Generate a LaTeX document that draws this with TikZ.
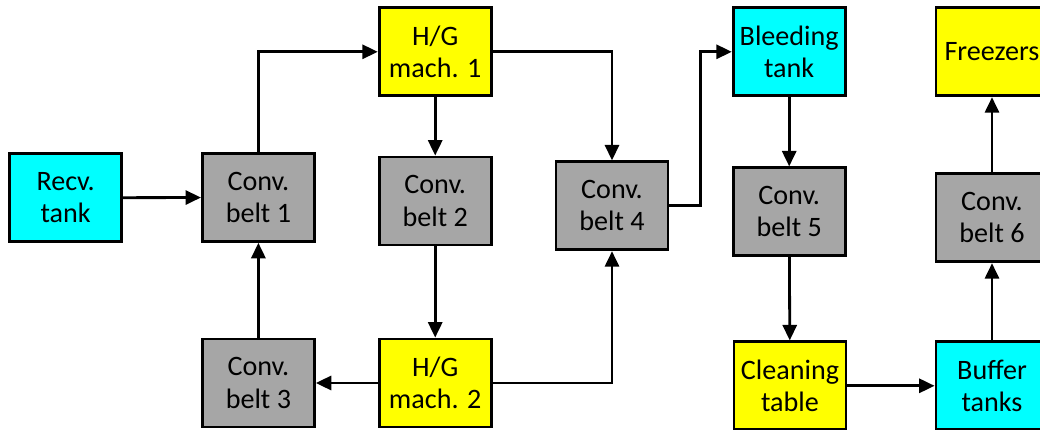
\documentclass[tikz,border=0pt]{standalone}
\usepackage{fontspec}
\setmainfont{Carlito}
\usetikzlibrary{arrows.meta}
\definecolor{tankcol}{RGB}{0,255,255}
\definecolor{machcol}{RGB}{255,255,0}
\definecolor{beltcol}{RGB}{166,166,166}

\begin{document}
\begin{tikzpicture}[>={Triangle[length=11pt,width=10pt]},every node/.style={font=\fontsize{20}{23}\selectfont,align=center},box/.style={draw,line width=2pt,minimum width=2.8cm,minimum height=2.2cm,inner sep=0pt},tank/.style={box,fill=tankcol},belt/.style={box,fill=beltcol},mach/.style={box,fill=machcol},flow/.style={->,line width=2pt}]
\useasboundingbox (0,0) rectangle (26,10.725);
\node[tank] (recv) at (1.64,5.78) {Recv.\\tank};
\node[belt] (belt1) at (6.46,5.79) {Conv.\\belt 1};\node[belt] (belt3) at (6.46,1.15) {Conv.\\belt 3};
\node[mach] (mach1) at (10.88,9.43) {H/G\\mach. 1};\node[belt] (belt2) at (10.88,5.7) {Conv.\\belt 2};\node[mach] (mach2) at (10.88,1.15) {H/G\\mach. 2};
\node[belt] (belt4) at (15.3,5.58) {Conv.\\belt 4};
\node[tank] (bleed) at (19.73,9.43) {Bleeding\\tank};\node[belt] (belt5) at (19.73,5.43) {Conv.\\belt 5};\node[mach] (clean) at (19.75,1.08) {Cleaning\\table};
\node[mach] (freez) at (24.8,9.43) {Freezers};\node[belt] (belt6) at (24.8,5.28) {Conv.\\belt 6};\node[tank] (buffer) at (24.8,1.08) {Buffer\\tanks};
% first line
\draw[flow] (recv) -- (belt1);\draw[flow] (belt3) -- (belt1);\draw[flow] (belt1.north) |- (mach1.west);
\draw[flow] (mach1) -- (belt2);\draw[flow] (belt2) -- (mach2);\draw[flow] (mach2) -- (belt3);
\draw[flow] (mach1.east) -| (belt4.north);\draw[flow] (mach2.east) -| (belt4.south);
% bleeding and after
\draw[flow] (belt4.east) -- ++(0.78,0) |- (bleed.west);
\draw[flow] (bleed) -- (belt5);\draw[flow] (belt5) -- (clean);\draw[flow] (clean) -- (buffer);
\draw[flow] (buffer) -- (belt6);\draw[flow] (belt6) -- (freez);
\end{tikzpicture}
\end{document}
